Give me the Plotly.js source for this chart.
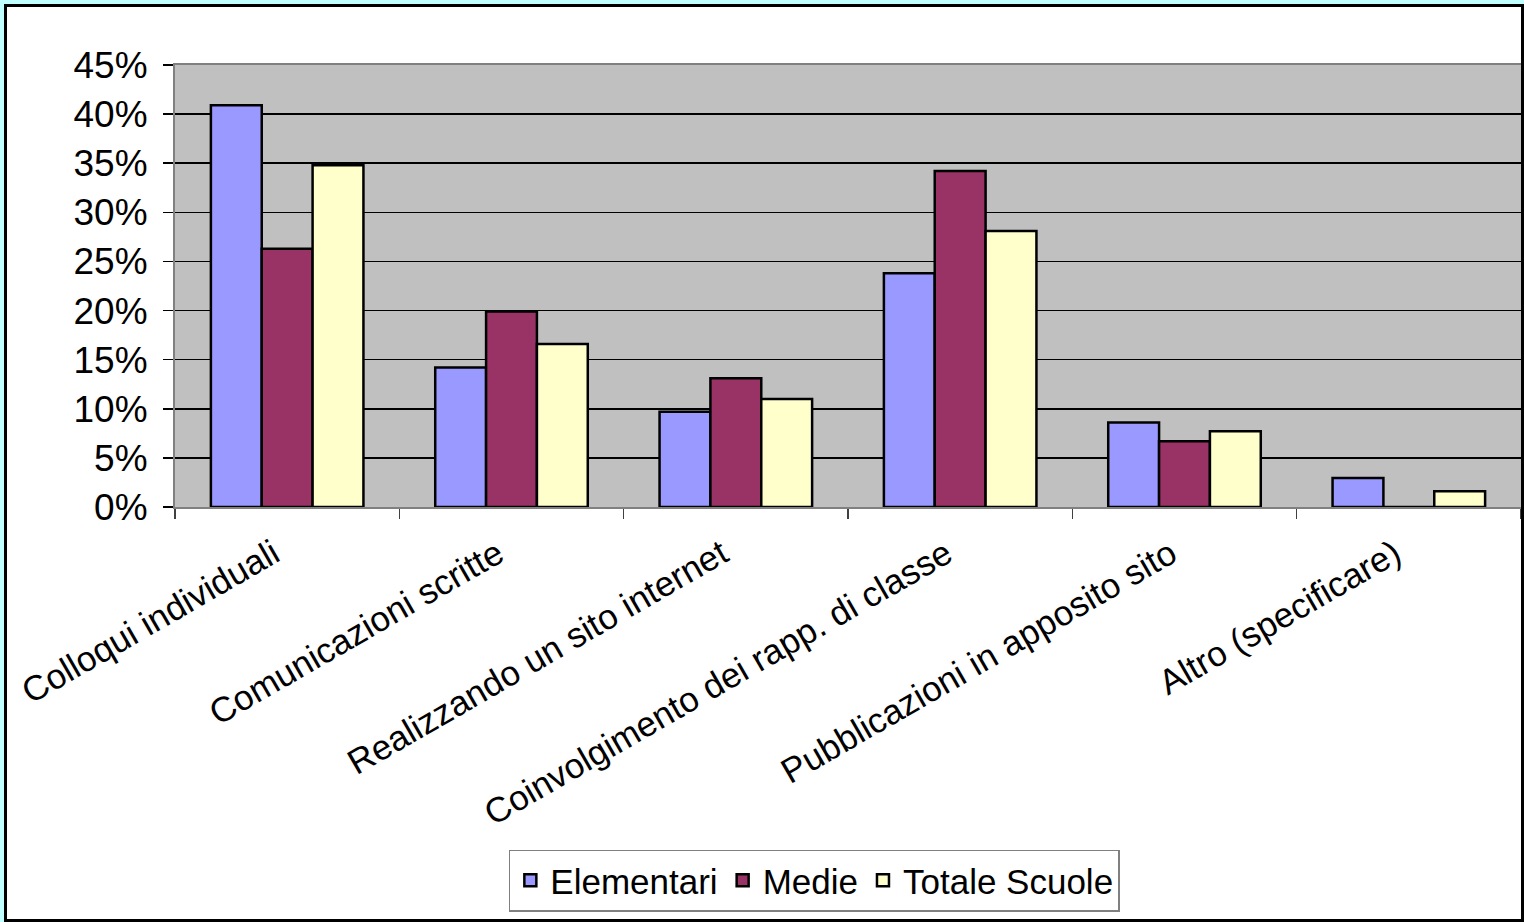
<!DOCTYPE html>
<html><head><meta charset="utf-8">
<script src="https://cdn.plot.ly/plotly-3.0.1.min.js"></script>
<style>
html,body{margin:0;padding:0;background:#BFFFFF;width:1524px;height:922px;overflow:hidden;}
#frame{position:absolute;left:4px;top:4px;width:1520px;height:918px;box-sizing:border-box;border:3px solid #000;background:#fff;}
#chart{width:1514px;height:912px;}
</style></head><body>
<div id="frame"><div id="chart"></div></div>
<script>
const categories = ["Colloqui individuali","Comunicazioni scritte","Realizzando un sito internet","Coinvolgimento dei rapp. di classe","Pubblicazioni in apposito sito","Altro (specificare)"];
const elementari = [40.9, 14.2, 9.7, 23.8, 8.6, 2.95];
const medie = [26.3, 19.9, 13.1, 34.2, 6.7, 0];
const totale = [34.8, 16.6, 11.0, 28.1, 7.7, 1.6];
const seriesNames = ["Elementari","Medie","Totale Scuole"];
const colors = ["#9999FF","#993366","#FFFFCC"];
const yTicks = [0,5,10,15,20,25,30,35,40,45];

const font = {family:"'Liberation Sans', Arial, sans-serif", color:"#000"};
const traces = [elementari, medie, totale].map((v,i)=>({
  type:"bar", x:categories, y:v, name:seriesNames[i],
  marker:{color:colors[i], line:{color:"#000", width:2.5}},
  hoverinfo:"x+y"
}));
const layout = {
  width:1514, height:912,
  margin:{l:168, r:0, t:58, b:412},
  paper_bgcolor:"#fff", plot_bgcolor:"#C0C0C0",
  font:Object.assign({size:32}, font),
  barmode:"group", bargap:0.32, bargroupgap:0,
  xaxis:{type:"category", tickangle:-30, tickfont:Object.assign({size:35}, font),
    ticklabelstandoff:11, ticklabelshift:-14,
    showline:true, linecolor:"#808080", linewidth:2, mirror:true,
    ticks:"outside", tickson:"boundaries", ticklen:10, tickcolor:"#404040", tickwidth:1.5,
    showgrid:false, automargin:false},
  yaxis:{range:[0,45], tickvals:yTicks, ticktext:yTicks.map(v=>v+"%"),
    tickfont:Object.assign({size:37}, font), ticklabelstandoff:8,
    showline:true, linecolor:"#808080", linewidth:2, mirror:true,
    ticks:"outside", ticklen:10, tickcolor:"#000", tickwidth:1.5,
    showgrid:true, gridcolor:"#000", gridwidth:1.5, zeroline:false, automargin:false},
  showlegend:true,
  legend:{orientation:"h", x:0.475, xanchor:"center", y:-0.775, yanchor:"top",
    font:Object.assign({size:35}, font), bordercolor:"#808080", borderwidth:1.5,
    bgcolor:"#fff", itemwidth:30, traceorder:"normal"}
};
Plotly.newPlot("chart", traces, layout, {displayModeBar:false, staticPlot:true});
</script>
</body></html>
